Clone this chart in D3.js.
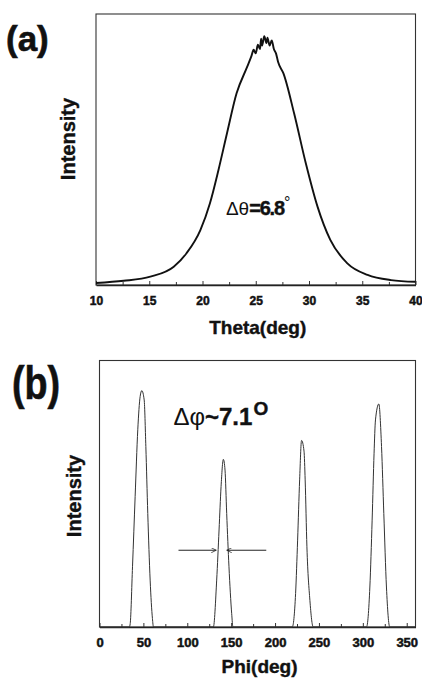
<!DOCTYPE html>
<html>
<head>
<meta charset="utf-8">
<script src="https://cdn.jsdelivr.net/npm/d3@7"></script>
<style>
  body { margin: 0; background: #fff; }
  svg { display: block; font-family: "Liberation Sans", Arial, sans-serif; }
</style>
</head>
<body>
<div id="container"></div>
<script>
// panel (a): theta scan
thetaDeg = [10.0, 12.6, 15.1, 17.3, 18.5, 19.8, 20.7, 21.5, 22.3, 23.2, 24.2, 24.6, 24.8, 25.0, 25.2, 25.4, 25.5, 25.6, 25.8, 26.0, 26.1, 26.3, 26.5, 26.7, 26.9, 27.1, 27.6, 28.6, 29.7, 30.8, 32.0, 33.6, 35.5, 37.7, 40.0];
thetaInt = [8, 17, 34, 74, 129, 223, 332, 467, 616, 778, 886, 930, 955, 940, 975, 958, 1000, 972, 1010, 982, 1004, 972, 993, 958, 940, 905, 859, 697, 494, 318, 183, 88, 41, 20, 13];
thetaTicks = [10, 15, 20, 25, 30, 35, 40];

// panel (b): phi scan
phiDeg = [0, 34, 35, 37.6, 40.6, 43.6, 46.3, 48.2, 50.9, 52.8, 55, 57.7, 60.3, 61.5,
          129.7, 133.5, 136.2, 138.5, 141.1, 143, 144.9, 147.5, 150.6, 152,
          219.6, 223.4, 225.7, 228, 230.2, 233.0, 234.3, 236.3, 239.7, 243.5,
          304.2, 308, 310.6, 312.8, 314.4, 318.2, 321.3, 323.9, 326.9, 330.7, 360];
phiInt = [0, 0, 13, 226, 489, 740, 865, 887, 852, 677, 426, 176, 32, 0,
          0, 176, 364, 527, 629, 589, 426, 226, 50, 0,
          0, 126, 326, 552, 700, 660, 552, 301, 100, 0,
          0, 150, 401, 652, 777, 837, 677, 426, 150, 0, 0];
phiTicks = [0, 50, 100, 150, 200, 250, 300, 350];

// FWHM arrows (phi, intensity)
arrowY = 288;
arrowLeft = [90, 133];
arrowRight = [190, 145];

const width = 422, height = 680;
const svg = d3.select("#container").append("svg")
    .attr("width", width)
    .attr("height", height);
svg.append("rect").attr("width", width).attr("height", height).attr("fill", "#fff");

svg.append("defs").append("marker")
    .attr("id", "arr")
    .attr("viewBox", "0 0 10 10")
    .attr("refX", 10).attr("refY", 5)
    .attr("markerWidth", 6).attr("markerHeight", 5)
    .attr("markerUnits", "userSpaceOnUse")
    .attr("orient", "auto")
    .append("path")
    .attr("d", "M0,0L10,5L0,10")
    .attr("fill", "none")
    .attr("stroke", "#222")
    .attr("stroke-width", 1.5);

// heavy bold look of the scanned figure
function heavy(sel, w) {
    return sel.attr("font-weight", "bold").attr("fill", "#111")
        .attr("stroke", "#111").attr("stroke-width", w).attr("paint-order", "stroke");
}

function panel(opt) {
    const x = d3.scaleLinear().domain(opt.xDomain).range([opt.left, opt.right]);
    const y = d3.scaleLinear().domain(opt.yDomain).range([opt.bottom, opt.top]);
    const g = svg.append("g");

    // frame
    g.append("rect")
        .attr("x", opt.left).attr("y", opt.top)
        .attr("width", opt.right - opt.left).attr("height", opt.bottom - opt.top)
        .attr("fill", "none").attr("stroke", "#333").attr("stroke-width", 1.1);

    // minor ticks
    const step = opt.ticks[1] - opt.ticks[0];
    g.append("g")
        .attr("transform", `translate(0,${opt.bottom})`)
        .call(d3.axisBottom(x).tickValues(opt.ticks.slice(0, -1).map(t => t + step / 2)).tickSize(-3).tickFormat(""))
        .call(a => a.select(".domain").remove())
        .call(a => a.selectAll("line").attr("stroke", "#333"));

    // major ticks + labels
    const ax = g.append("g")
        .attr("transform", `translate(0,${opt.bottom})`)
        .call(d3.axisBottom(x).tickValues(opt.ticks).tickSize(-4).tickSizeOuter(0).tickPadding(opt.pad))
        .call(a => a.select(".domain").attr("stroke", "#222").attr("stroke-width", 1.3));
    ax.selectAll("line").attr("stroke", "#333");
    heavy(ax.selectAll("text")
        .attr("font-family", "'Liberation Sans', Arial, sans-serif")
        .attr("font-size", opt.tickFont), 0.5);

    const line = d3.line()
        .x(d => x(d[0]))
        .y(d => y(d[1]))
        .curve(opt.curve);
    g.append("path")
        .datum(d3.zip(opt.xs, opt.ys))
        .attr("d", line)
        .attr("fill", "none")
        .attr("stroke", opt.stroke)
        .attr("stroke-width", opt.lw)
        .attr("stroke-linejoin", "round");

    // axis titles
    heavy(g.append("text")
        .attr("x", (opt.left + opt.right) / 2 + 2)
        .attr("y", opt.xTitleY)
        .attr("text-anchor", "middle")
        .attr("font-size", 19)
        .text(opt.xTitle), 0.4);
    heavy(g.append("text")
        .attr("transform", `translate(${opt.yTitleX},${opt.yTitleCY}) rotate(-90)`)
        .attr("text-anchor", "middle")
        .attr("font-size", 20)
        .text("Intensity"), 0.4);

    // panel letter
    heavy(g.append("text")
        .attr("transform", `translate(${opt.letterX},${opt.letterY}) scale(${opt.letterSX},1)`)
        .attr("font-size", opt.letterSize)
        .text(opt.letter), 0.6);

    return { x, y, g };
}

const a = panel({
    xDomain: [10, 40], yDomain: [0, 1100],
    left: 96, right: 415.5, top: 14, bottom: 285,
    ticks: thetaTicks, pad: 11, tickFont: 12,
    xs: thetaDeg, ys: thetaInt, curve: d3.curveMonotoneX, stroke: "#111", lw: 1.9,
    xTitle: "Theta(deg)", xTitleY: 334,
    yTitleX: 75, yTitleCY: 139,
    letter: "(a)", letterX: 6, letterY: 51, letterSize: 35, letterSX: 1
});

const aText = a.g.append("text")
    .attr("x", a.x(22.2)).attr("y", a.y(284))
    .attr("fill", "#111");
aText.append("tspan").attr("font-size", 19).text("Δθ");
heavy(aText.append("tspan").attr("font-size", 20).attr("letter-spacing", -1.2).text("=6.8"), 0.4);
aText.append("tspan").attr("font-size", 16).attr("dy", -7).text("°");

const b = panel({
    xDomain: [0, 360], yDomain: [0, 1000],
    left: 99.5, right: 415.5, top: 360.5, bottom: 627,
    ticks: phiTicks, pad: 11, tickFont: 13,
    xs: phiDeg, ys: phiInt, curve: d3.curveMonotoneX, stroke: "#333", lw: 1,
    xTitle: "Phi(deg)", xTitleY: 673,
    yTitleX: 81, yTitleCY: 496,
    letter: "(b)", letterX: 12, letterY: 399, letterSize: 46, letterSX: 0.82
});

const bText = b.g.append("text")
    .attr("x", b.x(84.2)).attr("y", b.y(758))
    .attr("fill", "#111");
bText.append("tspan").attr("font-size", 24).text("Δφ");
heavy(bText.append("tspan").attr("font-size", 24).text("~7.1"), 0.4);
heavy(bText.append("tspan").attr("font-size", 19).attr("dy", -10).attr("dx", 1).text("O"), 0.4);

[arrowLeft, arrowRight].forEach(r => {
    b.g.append("line")
        .attr("x1", b.x(r[0])).attr("x2", b.x(r[1]))
        .attr("y1", b.y(arrowY)).attr("y2", b.y(arrowY))
        .attr("stroke", "#222").attr("stroke-width", 1)
        .attr("marker-end", "url(#arr)");
});
</script>
</body>
</html>
